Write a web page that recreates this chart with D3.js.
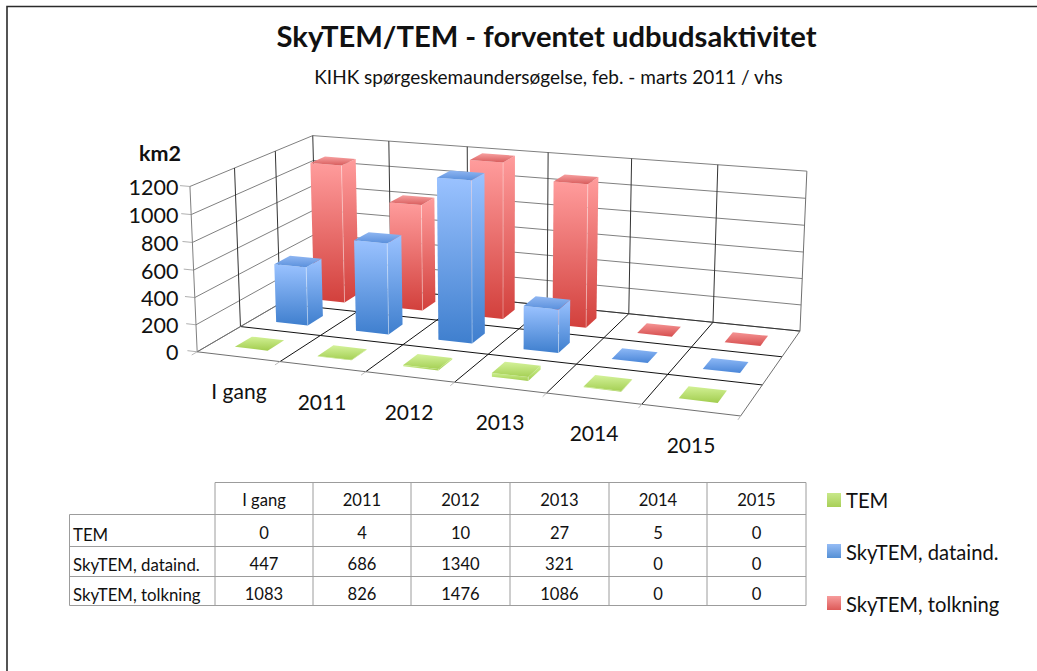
<!DOCTYPE html>
<html><head><meta charset="utf-8">
<script src="https://d3js.org/d3.v7.min.js"></script>
<style>html,body{margin:0;padding:0;background:#fff}svg{display:block}text{font-family:Lato,"Open Sans",sans-serif;fill:#111}</style>
</head><body><svg id="c" width="1037" height="671"></svg>
<script>
const categories = ["I gang","2011","2012","2013","2014","2015"];
const seriesNames = ["TEM","SkyTEM, dataind.","SkyTEM, tolkning"];
const temValues = [0,4,10,27,5,0];
const dataindValues = [447,686,1340,321,0,0];
const tolkningValues = [1083,826,1476,1086,0,0];
const seriesValues = [temValues,dataindValues,tolkningValues];
const zTickLabels = [0,200,400,600,800,1000,1200];
const title = "SkyTEM/TEM - forventet udbudsaktivitet";
const subtitle = "KIHK spørgeskemaundersøgelse, feb. - marts 2011 / vhs";
const axisTitle = "km2";

// Camera calibration: chart-space corner (col, depth, height 0..1) -> picture position
const cameraFit = [
 [0,0,0,197,352],[1,0,0,281,362],[2,0,0,366,372],[3,0,0,455,382],[4,0,0,546,393],[5,0,0,641,404],[6,0,0,741,416],
 [0,1,0,240,326],[6,1,0,762,385],[6,2,0,783,357],[4,3,0,628,313],[5,3,0,713,323],[6,3,0,800,331],
 [0,0,1,190,186],[0,1,1,234,168],[0,2,1,275,152],[0,3,1,313,135],
 [1,3,1,389,141],[2,3,1,468,147],[3,3,1,548,153],[4,3,1,632,159],[5,3,1,717,164],[6,3,1,807,171]
];
function solveCamera(pts){
  const A=[],b=[];
  pts.forEach(([X,Y,Z,u,v])=>{
    A.push([X,Y,Z,1,0,0,0,0,-u*X,-u*Y,-u*Z]);b.push(u);
    A.push([0,0,0,0,X,Y,Z,1,-v*X,-v*Y,-v*Z]);b.push(v);
  });
  const n=11,M=d3.range(n).map(i=>d3.range(n+1).map(j=>{
    let s=0;A.forEach((r,k)=>{s+=r[i]*(j<n?r[j]:b[k]);});return s;}));
  for(let i=0;i<n;i++){
    let p=i;for(let r=i+1;r<n;r++)if(Math.abs(M[r][i])>Math.abs(M[p][i]))p=r;
    [M[i],M[p]]=[M[p],M[i]];
    for(let r=0;r<n;r++){if(r===i)continue;const f=M[r][i]/M[i][i];
      for(let c=i;c<=n;c++)M[r][c]-=f*M[i][c];}
  }
  return M.map((r,i)=>r[n]/r[i]);
}
const P=solveCamera(cameraFit);
const project=(x,y,z)=>{const w=P[8]*x+P[9]*y+P[10]*z+1;
  return [(P[0]*x+P[1]*y+P[2]*z+P[3])/w,(P[4]*x+P[5]*y+P[6]*z+P[7])/w];};

// Scales into chart space
const xBand=d3.scaleBand().domain(categories).range([0,6]).paddingInner(0.6).paddingOuter(0.3);
const yBand=d3.scaleBand().domain(seriesNames).range([0,3]).paddingInner(0.6).paddingOuter(0.3);
const zScale=d3.scaleLinear().domain([0,1200]).range([0,1]).clamp(true);

const svg=d3.select("#c");
const line=d3.line();

// Gradients
const palette={
 "TEM":{front:["#cdf190","#a3cd52"],top:["#d4f29a","#a5d055"],flat:["#d2f195","#a2cd4f"],key:["#c8e88a","#a8cf58"]},
 "SkyTEM, dataind.":{front:["#9ac2ff","#3f7fce"],top:["#8fb6f2","#5a90dc"],flat:["#8db8f6","#4a86d8"],key:["#95bcf5","#5590d5"]},
 "SkyTEM, tolkning":{front:["#ff9c9c","#d2403c"],top:["#f7a0a0","#d85c5c"],flat:["#f59494","#d64e4e"],key:["#f79c9c","#dd5a58"]}
};
const defs=svg.append("defs");
seriesNames.forEach((s,i)=>{
  ["front","top","flat","key"].forEach(k=>{
    const g=defs.append("linearGradient").attr("id",`g${i}${k}`).attr("x1",0).attr("y1",0).attr("x2",0).attr("y2",1);
    g.append("stop").attr("offset","0%").attr("stop-color",palette[s][k][0]);
    g.append("stop").attr("offset","100%").attr("stop-color",palette[s][k][1]);
  });
});

// Page frame
svg.append("path").attr("d","M7,671V6.5H1037").attr("fill","none").attr("stroke","#2b2b2b").attr("stroke-width",1.6);

// Titles
const label=(t,x,y,size,anchor,weight)=>svg.append("text").text(t).attr("x",x).attr("y",y)
  .attr("font-size",size).attr("text-anchor",anchor||"middle").attr("font-weight",weight||400);
label(title,546.5,47,29.2,"middle",700);
label(subtitle,548.5,84,19);
label(axisTitle,139,161,21.5,"start",700);

// Walls and floor
const seg=(a,b,col,w)=>svg.append("path").attr("d",line([project(...a),project(...b)]))
  .attr("stroke",col).attr("stroke-width",w||1).attr("fill","none");
const zT=zTickLabels.map(v=>zScale(v));
zT.forEach(z=>{
  seg([0,0,z],[0,3,z],"#808080");
  seg([0,3,z],[6,3,z],"#808080");
  seg([0,0,z],[-0.12,0,z],"#b0b0b0");
});
[1,2,3].forEach(s=>seg([0,s,0],[0,s,1],"#333"));
[1,2,3,4,5].forEach(c=>seg([c,3,0],[c,3,1],"#333"));
seg([6,3,0],[6,3,1],"#707070");
seg([0,0,0],[0,0,1],"#808080");
[1,2,3,4,5].forEach(c=>seg([c,0,0],[c,3,0],"#111"));
[1,2].forEach(s=>seg([0,s,0],[6,s,0],"#111"));
seg([0,3,0],[6,3,0],"#333");
seg([0,0,0],[6,0,0],"#707070");
seg([0,0,0],[0,3,0],"#707070");
seg([6,0,0],[6,3,0],"#707070");
d3.range(7).forEach(c=>seg([c,0,0],[c,-0.12,0],"#bcbcbc"));

// Bars, back row first
const bars=svg.append("g");
const poly=(pts,fill)=>bars.append("path").attr("d",line(pts.map(p=>project(...p)))+"Z").attr("fill",fill);
d3.range(2,-1,-1).forEach(si=>{
  const name=seriesNames[si];
  seriesValues[si].forEach((v,ci)=>{
    const x0=xBand(categories[ci]),x1=x0+xBand.bandwidth();
    const y0=yBand(name),y1=y0+yBand.bandwidth();
    const z=zScale(v);
    if(v===0){
      poly([[x0,y1,0],[x1,y1,0],[x1,y0,0],[x0,y0,0]],`url(#g${si}flat)`);
      return;
    }
    poly([[x1,y0,0],[x1,y1,0],[x1,y1,z],[x1,y0,z]],`url(#g${si}front)`);
    poly([[x0,y0,0],[x1,y0,0],[x1,y0,z],[x0,y0,z]],`url(#g${si}front)`);
    poly([[x0,y1,z],[x1,y1,z],[x1,y0,z],[x0,y0,z]],`url(#g${si}top)`);
    bars.append("path").attr("d",line([project(x1,y0,0),project(x1,y0,z)]))
      .attr("stroke","#fff").attr("stroke-opacity",0.35).attr("stroke-width",1).attr("fill","none");
  });
});

// Axis labels
zTickLabels.forEach(v=>{
  const [,py]=project(0,0,zScale(v));
  label(v,178.5,py+8.5,21.5,"end");
});
const catLabelPos=[[239,399],[322,410],[409,420],[500,430],[594,441],[691,453]];
categories.forEach((c,i)=>label(c,catLabelPos[i][0],catLabelPos[i][1],21));

// Data table
const colEdges=[215,313,411,510,609,707,806];
const rowEdges=[482.5,514.5,546.5,576.5,605.5];
const tableGroup=svg.append("g");
const tl=(x1,y1,x2,y2,c)=>tableGroup.append("line").attr("x1",x1).attr("y1",y1).attr("x2",x2).attr("y2",y2)
  .attr("stroke",c||"#9c9c9c").attr("stroke-width",1);
colEdges.forEach(x=>tl(x,rowEdges[0],x,rowEdges[4]));
tl(69.5,rowEdges[1],69.5,rowEdges[4]);
rowEdges.forEach((y,i)=>tl(i===0?215:69.5,y,806,y));
const headerY=505.5,rowBase=[539,570,600],rowLabelBase=[541,571,601];
categories.forEach((c,i)=>label(c,(colEdges[i]+colEdges[i+1])/2,headerY,16.6));
seriesNames.forEach((s,r)=>{
  label(s,73,rowLabelBase[r],16.8,"start");
  seriesValues[r].forEach((v,i)=>label(v,(colEdges[i]+colEdges[i+1])/2,rowBase[r],16.6));
});

// Legend
const legendY=[493,544,596],legendBase=[508,560,612];
seriesNames.forEach((s,i)=>{
  svg.append("rect").attr("x",827).attr("y",legendY[i]).attr("width",14).attr("height",14).attr("fill",`url(#g${i}key)`);
  label(s,846,legendBase[i],20.2,"start");
});
</script></body></html>
